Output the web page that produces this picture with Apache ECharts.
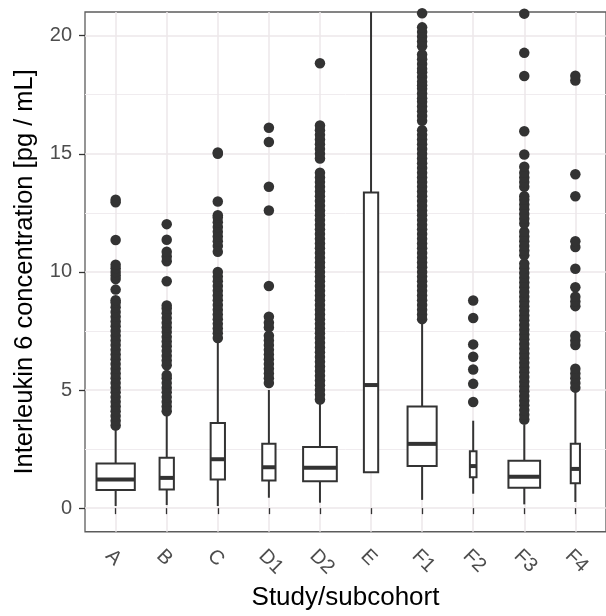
<!DOCTYPE html>
<html>
<head>
<meta charset="utf-8">
<script src="https://cdn.jsdelivr.net/npm/echarts@6/dist/echarts.min.js"></script>
<style>html,body{margin:0;padding:0;background:#fff}#chart{width:606px;height:616px}</style>
</head>
<body>
<div id="chart"></div>
<script>
// ---- data ----
const categories = ['A', 'B', 'C', 'D1', 'D2', 'E', 'F1', 'F2', 'F3', 'F4'];
const yTickValues = [0, 5, 10, 15, 20];
const yMinorValues = [2.5, 7.5, 12.5, 17.5];

const lowerWhisker = [0.09, 0.13, 0.09, 0.44, 0.23, 1.52, 0.35, 0.61, 0.16, 0.26];
const q1Values     = [0.77, 0.79, 1.21, 1.17, 1.14, 1.52, 1.78, 1.31, 0.86, 1.05];
const medianValues = [1.21, 1.28, 2.07, 1.73, 1.71, 5.21, 2.72, 1.78, 1.33, 1.66];
const q3Values     = [1.89, 2.13, 3.60, 2.73, 2.59, 13.36, 4.30, 2.41, 2.01, 2.72];
const upperWhisker = [3.39, 4.02, 7.04, 5.00, 4.51, 28.0, 7.88, 3.70, 3.55, 5.00];
// relative box widths (variable-width boxes, fraction of category spacing)
const relativeWidths = [0.75, 0.28, 0.28, 0.26, 0.66, 0.28, 0.57, 0.13, 0.62, 0.18];

const outliersA = [3.5, 3.7, 3.9, 4.1, 4.3, 4.5, 4.7, 4.9, 5.1, 5.3, 5.5, 5.7, 5.9, 6.1, 6.3, 6.5, 6.7, 6.9, 7.1, 7.3, 7.5, 7.7, 7.9, 8.1, 8.3, 8.5, 8.7, 8.8, 9.25, 9.7, 9.85, 10.0, 10.15, 10.3, 11.35, 12.95, 13.05];
const outliersB = [4.1, 4.3, 4.5, 4.7, 4.9, 5.1, 5.3, 5.5, 5.63, 6.05, 6.25, 6.45, 6.65, 6.85, 7.05, 7.25, 7.45, 7.65, 7.85, 8.05, 8.25, 8.45, 8.58, 9.6, 10.45, 10.65, 10.85, 11.36, 12.02];
const outliersC = [7.2, 7.4, 7.6, 7.8, 8.0, 8.2, 8.4, 8.6, 8.8, 9.0, 9.2, 9.4, 9.6, 9.8, 10.0, 10.85, 11.1, 11.3, 11.5, 11.7, 11.9, 12.1, 12.3, 12.4, 12.98, 15.0, 15.05];
const outliersD1 = [5.3, 5.5, 5.7, 5.9, 6.1, 6.3, 6.5, 6.7, 6.9, 7.1, 7.3, 7.65, 7.85, 8.1, 9.4, 12.6, 13.6, 15.5, 16.1];
const outliersD2 = [4.6, 4.8, 5.0, 5.2, 5.4, 5.6, 5.8, 6.0, 6.2, 6.4, 6.6, 6.8, 7.0, 7.2, 7.4, 7.6, 7.8, 8.0, 8.2, 8.4, 8.6, 8.8, 9.0, 9.2, 9.4, 9.6, 9.8, 10.0, 10.2, 10.4, 10.6, 10.8, 11.0, 11.2, 11.4, 11.6, 11.8, 12.0, 12.2, 12.4, 12.6, 12.8, 13.0, 13.2, 13.4, 13.6, 13.8, 14.0, 14.2, 14.8, 15.0, 15.2, 15.4, 15.6, 15.8, 16.0, 16.2, 18.83];
const outliersE = [];
const outliersF1 = [8.0, 8.2, 8.4, 8.6, 8.8, 9.0, 9.2, 9.4, 9.6, 9.8, 10.0, 10.2, 10.4, 10.6, 10.8, 11.0, 11.2, 11.4, 11.6, 11.8, 12.0, 12.2, 12.4, 12.6, 12.8, 13.0, 13.2, 13.4, 13.6, 13.8, 14.0, 14.2, 14.4, 14.6, 14.8, 15.0, 15.2, 15.4, 15.6, 15.8, 16.0, 16.4, 16.6, 16.8, 17.0, 17.2, 17.35, 17.55, 17.75, 17.9, 18.05, 18.25, 18.45, 18.6, 18.8, 19.0, 19.2, 19.55, 19.75, 19.95, 20.15, 20.35, 20.95];
const outliersF2 = [4.49, 5.26, 5.87, 6.41, 6.93, 8.05, 8.79];
const outliersF3 = [3.75, 3.95, 4.15, 4.35, 4.55, 4.75, 4.95, 5.15, 5.35, 5.55, 5.75, 5.95, 6.15, 6.35, 6.55, 6.75, 6.95, 7.15, 7.35, 7.55, 7.75, 7.95, 8.15, 8.35, 8.55, 8.75, 8.95, 9.15, 9.35, 9.55, 9.75, 9.95, 10.15, 10.35, 10.7, 10.9, 11.1, 11.3, 11.5, 11.7, 12.05, 12.25, 12.45, 12.65, 12.85, 13.05, 13.2, 13.6, 13.8, 14.0, 14.2, 14.45, 14.97, 15.95, 18.29, 19.27, 20.93];
const outliersF4 = [5.1, 5.3, 5.5, 5.7, 5.9, 6.9, 7.1, 7.3, 8.55, 8.75, 8.95, 9.35, 10.13, 11.05, 11.3, 13.2, 14.13, 18.1, 18.3];

const outlierLists = [outliersA, outliersB, outliersC, outliersD1, outliersD2, outliersE, outliersF1, outliersF2, outliersF3, outliersF4];

// ---- build ----
const boxData = categories.map((c, i) => [i + 1, lowerWhisker[i], q1Values[i], medianValues[i], q3Values[i], upperWhisker[i], relativeWidths[i]]);
const pointData = [];
outlierLists.forEach((list, i) => list.forEach(v => pointData.push([i + 1, v])));
const xTickValues = categories.map((c, i) => i + 1);

const FONT = '"Liberation Sans", Arial, Helvetica, sans-serif';
const INK = '#333333';

const chart = echarts.init(document.getElementById('chart'), null, { renderer: 'canvas' });
chart.setOption({
  animation: false,
  backgroundColor: '#ffffff',
  textStyle: { fontFamily: FONT },
  grid: { left: 85, top: 12, right: -7, bottom: 82, show: true, borderColor: '#5c5c5c', borderWidth: 1.3, backgroundColor: '#ffffff', containLabel: false },
  xAxis: {
    type: 'value', min: 0.4, max: 10.6,
    name: 'Study/subcohort', nameLocation: 'middle', nameGap: 52,
    nameTextStyle: { fontSize: 26, color: '#000000', fontFamily: FONT },
    axisLine: { show: false },
    axisTick: { show: true, length: 6, customValues: xTickValues, lineStyle: { color: INK, width: 1.3 } },
    axisLabel: {
      customValues: xTickValues, rotate: -45, align: 'left', verticalAlign: 'top', margin: 14,
      fontSize: 20, color: '#4D4D4D', fontFamily: FONT,
      formatter: v => categories[Math.round(v) - 1] || ''
    },
    splitLine: { show: true, lineStyle: { color: '#ECE7EA', width: 1.5 } }
  },
  yAxis: [{
    type: 'value', min: -1, max: 21,
    name: 'Interleukin 6 concentration [pg / mL]', nameLocation: 'middle', nameGap: 47,
    nameTextStyle: { fontSize: 25.5, color: '#000000', fontFamily: FONT },
    axisLine: { show: false },
    axisTick: { show: true, length: 6, customValues: yTickValues, lineStyle: { color: INK, width: 1.3 } },
    axisLabel: { customValues: yTickValues, margin: 13, fontSize: 20, color: '#4D4D4D', fontFamily: FONT },
    splitLine: { show: true, lineStyle: { color: '#ECE7EA', width: 1.5 } }
  }, {
    type: 'value', min: -1, max: 21, position: 'left',
    axisLine: { show: false },
    axisTick: { show: false, customValues: yMinorValues },
    axisLabel: { show: false, customValues: yMinorValues },
    splitLine: { show: true, lineStyle: { color: '#F0ECEF', width: 1 } }
  }],
  series: [{
    type: 'custom',
    xAxisIndex: 0, yAxisIndex: 0,
    data: boxData,
    encode: { x: 0, y: [1, 2, 3, 4, 5] },
    renderItem: function (params, api) {
      const x = api.value(0);
      const rw = api.value(6);
      const band = api.size([1, 0])[0];
      const half = band * rw / 2;
      const cs = params.coordSys;
      const top = cs.y, bottom = cs.y + cs.height;
      const clampY = y => Math.max(top, Math.min(bottom, y));
      const pLo = api.coord([x, api.value(1)]);
      const pQ1 = api.coord([x, api.value(2)]);
      const pMed = api.coord([x, api.value(3)]);
      const pQ3 = api.coord([x, api.value(4)]);
      const pHi = api.coord([x, api.value(5)]);
      const cx = pLo[0];
      const lw = 2;
      return {
        type: 'group',
        children: [
          { type: 'line', shape: { x1: cx, y1: clampY(pQ3[1]), x2: cx, y2: clampY(pHi[1]) }, style: { stroke: INK, lineWidth: lw } },
          { type: 'line', shape: { x1: cx, y1: pQ1[1], x2: cx, y2: pLo[1] }, style: { stroke: INK, lineWidth: lw } },
          { type: 'rect', shape: { x: cx - half, y: pQ3[1], width: 2 * half, height: pQ1[1] - pQ3[1] }, style: { fill: '#ffffff', stroke: INK, lineWidth: lw } },
          { type: 'line', shape: { x1: cx - half, y1: pMed[1], x2: cx + half, y2: pMed[1] }, style: { stroke: INK, lineWidth: lw * 2 } }
        ]
      };
    },
    z: 2
  }, {
    type: 'scatter',
    xAxisIndex: 0, yAxisIndex: 0,
    data: pointData,
    symbol: 'circle', symbolSize: 10.5,
    itemStyle: { color: INK, opacity: 1 },
    clip: true,
    z: 3
  }]
});
</script>
</body>
</html>
